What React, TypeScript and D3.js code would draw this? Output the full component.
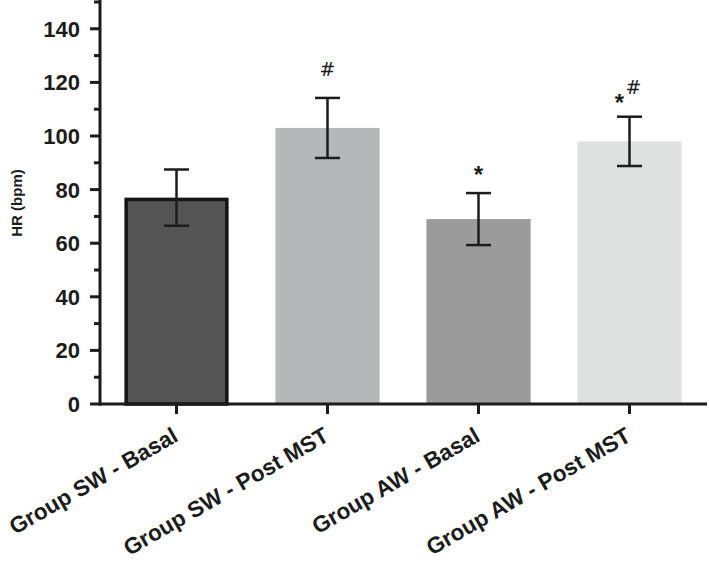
import React from "react";
import * as d3 from "d3";

const categories = ["Group SW - Basal", "Group SW - Post MST", "Group AW - Basal", "Group AW - Post MST"];
const means = [77, 103, 69, 98];
const errors = [10.5, 11.2, 9.7, 9.2];
const fills = ["#545454", "#b6b7b9", "#9b9b9b", "#dfe0e0"];
const annotations = ["", "#", "*", "*#"];
const yTicks = [0, 20, 40, 60, 80, 100, 120, 140];
const yMinorTicks = [10, 30, 50, 70, 90, 110, 130, 150];

const W = 709;
const H = 564;

export default function App() {
  const x = d3.scaleBand<string>().domain(categories).range([101, 705]).paddingInner(0.31).paddingOuter(0.155);
  const y = d3.scaleLinear().domain([0, 150]).range([404, 2]);
  const axisX = 100;
  const axisY = y(0);
  const font = "'Liberation Sans', Arial, Helvetica, sans-serif";
  const ink = "#1c1c1c";
  const capW = 25;

  return (
    <svg width={W} height={H} style={{ position: "absolute", left: 0, top: 0, background: "#fff" }} fontFamily={font}>
      {/* bars */}
      {categories.map((c, i) => {
        const bx = x(c)!;
        const bw = x.bandwidth();
        const outlined = i === 0;
        const sw = 3.5;
        return (
          <rect
            key={c}
            x={outlined ? bx + sw / 2 : bx}
            y={outlined ? y(means[i]) + sw / 2 : y(means[i])}
            width={outlined ? bw - sw : bw}
            height={outlined ? axisY - y(means[i]) - sw / 2 : axisY - y(means[i])}
            fill={fills[i]}
            stroke={outlined ? "#151515" : "none"}
            strokeWidth={outlined ? sw : 0}
          />
        );
      })}
      {/* error bars */}
      {categories.map((c, i) => {
        const cx = x(c)! + x.bandwidth() / 2;
        const top = y(means[i] + errors[i]);
        const bot = y(means[i] - errors[i]);
        return (
          <g key={c + "e"} stroke={ink} strokeWidth={2.5}>
            <line x1={cx} x2={cx} y1={top} y2={bot} />
            <line x1={cx - capW / 2} x2={cx + capW / 2} y1={top} y2={top} />
            <line x1={cx - capW / 2} x2={cx + capW / 2} y1={bot} y2={bot} />
          </g>
        );
      })}
      {/* annotations */}
      {categories.map((c, i) => {
        const cx = x(c)! + x.bandwidth() / 2;
        const top = y(means[i] + errors[i]);
        const a = annotations[i];
        if (!a) return null;
        if (a === "#") {
          return (
            <text key={c + "a"} x={cx} y={top - 22} textAnchor="middle" fontSize={19} fill={ink} fontFamily="'DejaVu Sans', sans-serif">#</text>
          );
        }
        if (a === "*") {
          return (
            <text key={c + "a"} x={cx} y={top - 10} textAnchor="middle" fontSize={24} fontWeight="bold" fill={ink}>*</text>
          );
        }
        return (
          <g key={c + "a"}>
            <text x={cx - 10} y={top - 6} textAnchor="middle" fontSize={24} fontWeight="bold" fill={ink}>*</text>
            <text x={cx + 4} y={top - 23} textAnchor="middle" fontSize={19} fill={ink} fontFamily="'DejaVu Sans', sans-serif">#</text>
          </g>
        );
      })}
      {/* y axis */}
      <line x1={axisX} x2={axisX} y1={y(150) - 2} y2={axisY + 1.5} stroke={ink} strokeWidth={3} />
      {yTicks.map((t) => (
        <g key={"t" + t}>
          <line x1={axisX - 10} x2={axisX} y1={y(t)} y2={y(t)} stroke={ink} strokeWidth={3} />
          <text x={80} y={y(t)} dy="0.36em" textAnchor="end" fontSize={22} fontWeight="bold" fill={ink}>{t}</text>
        </g>
      ))}
      {yMinorTicks.map((t) => (
        <line key={"m" + t} x1={axisX - 6} x2={axisX} y1={y(t)} y2={y(t)} stroke={ink} strokeWidth={3} />
      ))}
      <text
        transform={`translate(22, ${y(75)}) rotate(-90)`}
        textAnchor="middle"
        fontSize={15}
        fontWeight="bold"
        fill={ink}
      >
        HR (bpm)
      </text>
      {/* x axis */}
      <line x1={axisX - 1.5} x2={707} y1={axisY} y2={axisY} stroke={ink} strokeWidth={3} />
      {categories.map((c) => {
        const cx = x(c)! + x.bandwidth() / 2;
        return (
          <g key={c + "x"}>
            <line x1={cx} x2={cx} y1={axisY} y2={axisY + 10} stroke={ink} strokeWidth={3} />
            <text
              transform={`translate(${cx + 3}, ${axisY + 36}) rotate(-30)`}
              textAnchor="end"
              fontSize={22.5}
              fontWeight="bold"
              fill={ink}
            >
              {c}
            </text>
          </g>
        );
      })}
    </svg>
  );
}
